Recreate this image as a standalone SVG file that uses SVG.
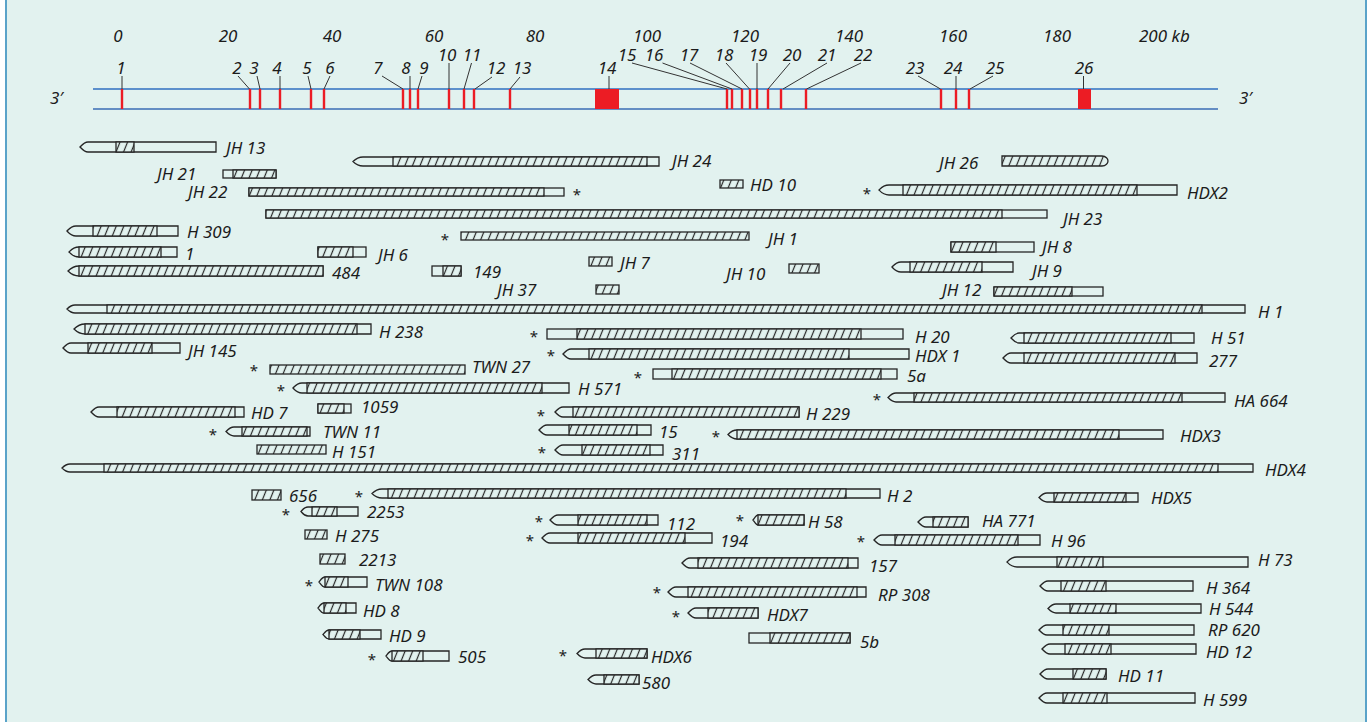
<svg xmlns="http://www.w3.org/2000/svg" width="1372" height="722" viewBox="0 0 1372 722">
<defs>
<pattern id="hatch" width="7" height="10" patternUnits="userSpaceOnUse" patternTransform="rotate(22)">
<rect width="7" height="10" fill="#e2f2ef"/>
<line x1="3.5" y1="0" x2="3.5" y2="10" stroke="#262626" stroke-width="1.2"/>
</pattern>
<style>
.o{fill:#e2f2ef;stroke:#262626;stroke-width:1.3}
.h{fill:url(#hatch);stroke:#262626;stroke-width:1.3}
.t{font-family:"Noto Sans","Open Sans",sans-serif;font-style:italic;font-size:17px;fill:#1c1c1c}
.n{font-family:"Noto Sans","Open Sans",sans-serif;font-style:italic;font-size:17px;fill:#1c1c1c;text-anchor:middle}
.s{font-family:"Noto Sans","Open Sans",sans-serif;font-size:15px;fill:#1c1c1c;text-anchor:middle}
.ld{stroke:#333;stroke-width:1;fill:none}
.ex{fill:#ec1c24}
</style>
</defs>
<rect width="1372" height="722" fill="#ffffff"/>
<rect x="6" y="0" width="1360" height="722" fill="#e2f2ef"/>
<line x1="6" y1="0" x2="6" y2="722" stroke="#5aa3c9" stroke-width="2"/>
<line x1="1366" y1="0" x2="1366" y2="722" stroke="#5aa3c9" stroke-width="2"/>

<!-- kilobase scale -->
<g id="scale">
<text class="n" x="118" y="42">0</text>
<text class="n" x="228" y="42">20</text>
<text class="n" x="332" y="42">40</text>
<text class="n" x="434" y="42">60</text>
<text class="n" x="535" y="42">80</text>
<text class="n" x="647" y="42">100</text>
<text class="n" x="745" y="42">120</text>
<text class="n" x="849" y="42">140</text>
<text class="n" x="953" y="42">160</text>
<text class="n" x="1057" y="42">180</text>
<text class="t" x="1139" y="42">200 kb</text>
</g>

<!-- gene map with exons -->
<g id="gene">
<line x1="93" y1="89" x2="1218" y2="89" stroke="#2f6fc0" stroke-width="1.6"/>
<line x1="93" y1="109" x2="1218" y2="109" stroke="#3a6db5" stroke-width="1.6"/>
<text class="t" x="50" y="104">3′</text>
<text class="t" x="1239" y="104">3′</text>
<rect class="ex" x="120.8" y="89" width="2.4" height="20"/>
<rect class="ex" x="248.8" y="89" width="2.4" height="20"/>
<rect class="ex" x="258.8" y="89" width="2.4" height="20"/>
<rect class="ex" x="278.8" y="89" width="2.4" height="20"/>
<rect class="ex" x="309.8" y="89" width="2.4" height="20"/>
<rect class="ex" x="322.8" y="89" width="2.4" height="20"/>
<rect class="ex" x="401.8" y="89" width="2.4" height="20"/>
<rect class="ex" x="408.8" y="89" width="2.4" height="20"/>
<rect class="ex" x="416.8" y="89" width="2.4" height="20"/>
<rect class="ex" x="447.8" y="89" width="2.4" height="20"/>
<rect class="ex" x="462.8" y="89" width="2.4" height="20"/>
<rect class="ex" x="472.8" y="89" width="2.4" height="20"/>
<rect class="ex" x="508.8" y="89" width="2.4" height="20"/>
<rect class="ex" x="595" y="89" width="24" height="20"/>
<rect class="ex" x="725.8" y="89" width="2.4" height="20"/>
<rect class="ex" x="730.8" y="89" width="2.4" height="20"/>
<rect class="ex" x="740.8" y="89" width="2.4" height="20"/>
<rect class="ex" x="748.8" y="89" width="2.4" height="20"/>
<rect class="ex" x="755.8" y="89" width="2.4" height="20"/>
<rect class="ex" x="766.8" y="89" width="2.4" height="20"/>
<rect class="ex" x="779.8" y="89" width="2.4" height="20"/>
<rect class="ex" x="804.8" y="89" width="2.4" height="20"/>
<rect class="ex" x="939.8" y="89" width="2.4" height="20"/>
<rect class="ex" x="954.8" y="89" width="2.4" height="20"/>
<rect class="ex" x="967.8" y="89" width="2.4" height="20"/>
<rect class="ex" x="1078" y="89" width="13" height="20"/>
<text class="n" x="121" y="74">1</text>
<text class="n" x="237" y="74">2</text>
<text class="n" x="254" y="74">3</text>
<text class="n" x="277" y="74">4</text>
<text class="n" x="307" y="74">5</text>
<text class="n" x="330" y="74">6</text>
<text class="n" x="378" y="74">7</text>
<text class="n" x="406" y="74">8</text>
<text class="n" x="424" y="74">9</text>
<text class="n" x="447" y="61">10</text>
<text class="n" x="472" y="61">11</text>
<text class="n" x="496" y="74">12</text>
<text class="n" x="522" y="74">13</text>
<text class="n" x="607" y="74">14</text>
<text class="n" x="627" y="61">15</text>
<text class="n" x="654" y="61">16</text>
<text class="n" x="689" y="61">17</text>
<text class="n" x="724" y="61">18</text>
<text class="n" x="758" y="61">19</text>
<text class="n" x="792" y="61">20</text>
<text class="n" x="827" y="61">21</text>
<text class="n" x="863" y="61">22</text>
<text class="n" x="915" y="74">23</text>
<text class="n" x="953" y="74">24</text>
<text class="n" x="995" y="74">25</text>
<text class="n" x="1084" y="74">26</text>
</g>

<!-- leaders from exon numbers to the map -->
<g id="connectors" class="ld">
<line x1="122" y1="76" x2="122" y2="89"/>
<line x1="238" y1="76" x2="249.5" y2="89"/>
<line x1="257" y1="76" x2="260" y2="89"/>
<line x1="280" y1="76" x2="280" y2="89"/>
<line x1="308" y1="76" x2="311" y2="89"/>
<line x1="330" y1="76" x2="324" y2="89"/>
<line x1="382" y1="76" x2="403" y2="89"/>
<line x1="410" y1="76" x2="410" y2="89"/>
<line x1="422" y1="76" x2="418" y2="89"/>
<line x1="449" y1="63" x2="449" y2="89"/>
<line x1="471.5" y1="63" x2="464" y2="89"/>
<line x1="492" y1="77" x2="475" y2="89"/>
<line x1="520" y1="77" x2="510" y2="89"/>
<line x1="609" y1="76" x2="609" y2="89"/>
<line x1="632" y1="63" x2="727" y2="89"/>
<line x1="662.5" y1="63" x2="732" y2="89"/>
<line x1="690" y1="63" x2="742" y2="89"/>
<line x1="726" y1="63" x2="749.5" y2="89"/>
<line x1="757" y1="63" x2="757" y2="89"/>
<line x1="790" y1="63" x2="768" y2="89"/>
<line x1="827" y1="63" x2="783" y2="89"/>
<line x1="861" y1="63" x2="806.5" y2="89"/>
<line x1="918" y1="76" x2="940.5" y2="89"/>
<line x1="956" y1="76" x2="956" y2="89"/>
<line x1="993" y1="76" x2="970" y2="89"/>
<line x1="1083.5" y1="76" x2="1083.5" y2="89"/>
</g>

<!-- cloned fragments: outline with a pointed 5' nose, hatched insert on top -->
<g id="JH13"><path class="o" d="M88,142H216V152H88C84,152 81,148 80,147C81,146 84,142 88,142Z"/><rect class="h" x="116" y="142" width="18" height="10"/><text class="t" x="226" y="154">JH 13</text></g>
<g id="JH24"><path class="o" d="M363,157H659V166H363C358,166 354,162.5 353,161.5C354,160.5 358,157 363,157Z"/><rect class="h" x="393" y="157" width="254" height="9"/><text class="t" x="672" y="167">JH 24</text></g>
<g id="JH21"><rect class="o" x="223" y="170" width="53" height="8"/><rect class="h" x="233" y="170" width="43" height="8"/><text class="t" x="157" y="180">JH 21</text></g>
<g id="JH22"><rect class="o" x="249" y="188" width="315" height="8"/><rect class="h" x="249" y="188" width="295" height="8"/><text class="t" x="188" y="198">JH 22</text><text class="s" x="577" y="200">*</text></g>
<g id="JH23"><rect class="o" x="266" y="210" width="781" height="8"/><rect class="h" x="266" y="210" width="736" height="8"/><text class="t" x="1063" y="225">JH 23</text></g>
<g id="H309"><path class="o" d="M76,226H178V236H76C71,236 68,232 67,231C68,230 71,226 76,226Z"/><rect class="h" x="93" y="226" width="64" height="10"/><text class="t" x="187" y="238">H 309</text></g>
<g id="c1"><path class="o" d="M79,247H177V257H79C73,257 70,253 69,252C70,251 73,247 79,247Z"/><rect class="h" x="79" y="247" width="82" height="10"/><text class="t" x="185" y="260">1</text></g>
<g id="c484"><path class="o" d="M79,266H323V276H79C73,276 69,272 68,271C69,270 73,266 79,266Z"/><rect class="h" x="79" y="266" width="244" height="10"/><text class="t" x="332" y="279">484</text></g>
<g id="JH6"><rect class="o" x="318" y="247" width="48" height="10"/><rect class="h" x="318" y="247" width="35" height="10"/><text class="t" x="378" y="261">JH 6</text></g>
<g id="c149"><rect class="o" x="432" y="266" width="29" height="10"/><rect class="h" x="443" y="266" width="18" height="10"/><text class="t" x="473" y="278">149</text></g>
<g id="JH1"><rect class="h" x="461" y="232" width="288" height="8"/><text class="t" x="768" y="245">JH 1</text><text class="s" x="445" y="245">*</text></g>
<g id="HD10"><rect class="h" x="720" y="180" width="23" height="8"/><text class="t" x="750" y="191">HD 10</text></g>
<g id="JH7"><rect class="h" x="589" y="257" width="23" height="9"/><text class="t" x="620" y="269">JH 7</text></g>
<g id="JH10"><rect class="h" x="789" y="264" width="30" height="9"/><text class="t" x="726" y="280">JH 10</text></g>
<g id="JH37"><rect class="h" x="596" y="285" width="23" height="9"/><text class="t" x="497" y="296">JH 37</text></g>
<g id="JH26"><path class="h" d="M1002,156H1102C1106,156 1108,159 1108,161C1108,163 1106,166 1102,166H1002Z"/><text class="t" x="939" y="169">JH 26</text></g>
<g id="HDX2"><path class="o" d="M889,185H1177V195H889C883,195 880,191 879,190C880,189 883,185 889,185Z"/><rect class="h" x="903" y="185" width="234" height="10"/><text class="t" x="1187" y="199">HDX2</text><text class="s" x="867" y="199">*</text></g>
<g id="JH8"><rect class="o" x="951" y="242" width="83" height="10"/><rect class="h" x="951" y="242" width="45" height="10"/><text class="t" x="1042" y="253">JH 8</text></g>
<g id="JH9"><path class="o" d="M901,262H1013V272H901C896,272 893,268 892,267C893,266 896,262 901,262Z"/><rect class="h" x="910" y="262" width="72" height="10"/><text class="t" x="1032" y="277">JH 9</text></g>
<g id="JH12"><rect class="o" x="994" y="287" width="109" height="9"/><rect class="h" x="994" y="287" width="78" height="9"/><text class="t" x="942" y="296">JH 12</text></g>
<g id="H1"><path class="o" d="M75,305H1245V313H75C71,313 68,310 67,309C68,308 71,305 75,305Z"/><rect class="h" x="107" y="305" width="1095" height="8"/><text class="t" x="1258" y="318">H 1</text></g>
<g id="H238"><path class="o" d="M85,324H371V334H85C79,334 75,330 74,329C75,328 79,324 85,324Z"/><rect class="h" x="85" y="324" width="272" height="10"/><text class="t" x="379" y="338">H 238</text></g>
<g id="JH145"><path class="o" d="M71,343H180V353H71C67,353 64,349 63,348C64,347 67,343 71,343Z"/><rect class="h" x="88" y="343" width="64" height="10"/><text class="t" x="188" y="357">JH 145</text></g>
<g id="TWN27"><rect class="h" x="270" y="365" width="195" height="9"/><text class="t" x="472" y="373">TWN 27</text><text class="s" x="254" y="376">*</text></g>
<g id="H571"><path class="o" d="M302,383H569V393H302C297,393 294,389 293,388C294,387 297,383 302,383Z"/><rect class="h" x="307" y="383" width="235" height="10"/><text class="t" x="578" y="395">H 571</text><text class="s" x="281" y="396">*</text></g>
<g id="HD7"><path class="o" d="M99,407H244V417H99C95,417 92,413 91,412C92,411 95,407 99,407Z"/><rect class="h" x="117" y="407" width="118" height="10"/><text class="t" x="251" y="419">HD 7</text></g>
<g id="c1059"><rect class="o" x="318" y="404" width="33" height="9"/><rect class="h" x="318" y="404" width="26" height="9"/><text class="t" x="361" y="413">1059</text></g>
<g id="TWN11"><path class="o" d="M234,427H310V436H234C230,436 227,432.5 226,431.5C227,430.5 230,427 234,427Z"/><rect class="h" x="242" y="427" width="65" height="9"/><text class="t" x="323" y="438">TWN 11</text><text class="s" x="213" y="440">*</text></g>
<g id="H151"><rect class="h" x="257" y="445" width="69" height="9"/><text class="t" x="332" y="458">H 151</text></g>
<g id="HDX4"><path class="o" d="M70,464H1253V472H70C66,472 63,469 62,468C63,467 66,464 70,464Z"/><rect class="h" x="104" y="464" width="1114" height="8"/><text class="t" x="1265" y="476">HDX4</text></g>
<g id="H20"><rect class="o" x="547" y="329" width="356" height="10"/><rect class="h" x="577" y="329" width="284" height="10"/><text class="t" x="915" y="343">H 20</text><text class="s" x="534" y="342">*</text></g>
<g id="HDX1"><path class="o" d="M571,349H909V359H571C567,359 564,355 563,354C564,353 567,349 571,349Z"/><rect class="h" x="589" y="349" width="260" height="10"/><text class="t" x="915" y="362">HDX 1</text><text class="s" x="551" y="361">*</text></g>
<g id="c5a"><rect class="o" x="653" y="369" width="244" height="10"/><rect class="h" x="672" y="369" width="209" height="10"/><text class="t" x="907" y="382">5a</text><text class="s" x="638" y="383">*</text></g>
<g id="H229"><path class="o" d="M563,407H799V417H563C559,417 556,413 555,412C556,411 559,407 563,407Z"/><rect class="h" x="573" y="407" width="226" height="10"/><text class="t" x="806" y="420">H 229</text><text class="s" x="541" y="421">*</text></g>
<g id="c15"><path class="o" d="M547,425H651V435H547C543,435 540,431 539,430C540,429 543,425 547,425Z"/><rect class="h" x="569" y="425" width="68" height="10"/><text class="t" x="659" y="438">15</text></g>
<g id="HDX3"><path class="o" d="M737,430H1163V439H737C732,439 729,435.5 728,434.5C729,433.5 732,430 737,430Z"/><rect class="h" x="737" y="430" width="382" height="9"/><text class="t" x="1180" y="442">HDX3</text><text class="s" x="716" y="442">*</text></g>
<g id="c311"><path class="o" d="M563,445H663V455H563C559,455 556,451 555,450C556,449 559,445 563,445Z"/><rect class="h" x="582" y="445" width="68" height="10"/><text class="t" x="672" y="460">311</text><text class="s" x="542" y="458">*</text></g>
<g id="H51"><path class="o" d="M1019,333H1194V343H1019C1015,343 1012,339 1011,338C1012,337 1015,333 1019,333Z"/><rect class="h" x="1024" y="333" width="147" height="10"/><text class="t" x="1211" y="344">H 51</text></g>
<g id="c277"><path class="o" d="M1011,353H1197V363H1011C1007,363 1004,359 1003,358C1004,357 1007,353 1011,353Z"/><rect class="h" x="1024" y="353" width="151" height="10"/><text class="t" x="1209" y="367">277</text></g>
<g id="HA664"><path class="o" d="M896,393H1225V402H896C892,402 889,398.5 888,397.5C889,396.5 892,393 896,393Z"/><rect class="h" x="914" y="393" width="268" height="9"/><text class="t" x="1234" y="407">HA 664</text><text class="s" x="877" y="405">*</text></g>
<g id="c656"><rect class="h" x="252" y="490" width="29" height="10"/><text class="t" x="289" y="502">656</text></g>
<g id="H2"><path class="o" d="M382,489H880V498H382C377,498 373,494.5 372,493.5C373,492.5 377,489 382,489Z"/><rect class="h" x="388" y="489" width="458" height="9"/><text class="t" x="887" y="502">H 2</text><text class="s" x="359" y="502">*</text></g>
<g id="c2253"><path class="o" d="M308,507H358V516H308C304,516 302,512.5 301,511.5C302,510.5 304,507 308,507Z"/><rect class="h" x="312" y="507" width="25" height="9"/><text class="t" x="367" y="518">2253</text><text class="s" x="286" y="520">*</text></g>
<g id="H275"><rect class="h" x="305" y="530" width="22" height="9"/><text class="t" x="335" y="542">H 275</text></g>
<g id="c2213"><rect class="h" x="320" y="554" width="25" height="10"/><text class="t" x="359" y="566">2213</text></g>
<g id="TWN108"><path class="o" d="M325,577H367V587H325C322,587 320,583 319,582C320,581 322,577 325,577Z"/><rect class="h" x="325" y="577" width="23" height="10"/><text class="t" x="375" y="591">TWN 108</text><text class="s" x="309" y="591">*</text></g>
<g id="HD8"><path class="o" d="M324,603H356V613H324C321,613 319,609 318,608C319,607 321,603 324,603Z"/><rect class="h" x="324" y="603" width="22" height="10"/><text class="t" x="363" y="617">HD 8</text></g>
<g id="HD9"><path class="o" d="M329,630H381V639H329C326,639 324,635.5 323,634.5C324,633.5 326,630 329,630Z"/><rect class="h" x="329" y="630" width="31" height="9"/><text class="t" x="389" y="642">HD 9</text></g>
<g id="c505"><path class="o" d="M392,651H449V661H392C389,661 387,657 386,656C387,655 389,651 392,651Z"/><rect class="h" x="392" y="651" width="31" height="10"/><text class="t" x="458" y="663">505</text><text class="s" x="372" y="665">*</text></g>
<g id="c112"><path class="o" d="M558,515H658V525H558C554,525 551,521 550,520C551,519 554,515 558,515Z"/><rect class="h" x="578" y="515" width="69" height="10"/><text class="t" x="667" y="530">112</text><text class="s" x="539" y="527">*</text></g>
<g id="c194"><path class="o" d="M550,533H712V543H550C546,543 543,539 542,538C543,537 546,533 550,533Z"/><rect class="h" x="578" y="533" width="107" height="10"/><text class="t" x="720" y="547">194</text><text class="s" x="530" y="546">*</text></g>
<g id="H58"><path class="o" d="M758,515H804V525H758C756,525 754,521 753,520C754,519 756,515 758,515Z"/><rect class="h" x="758" y="515" width="46" height="10"/><text class="t" x="808" y="528">H 58</text><text class="s" x="740" y="526">*</text></g>
<g id="c157"><path class="o" d="M690,558H858V568H690C686,568 683,564 682,563C683,562 686,558 690,558Z"/><rect class="h" x="698" y="558" width="150" height="10"/><text class="t" x="869" y="572">157</text></g>
<g id="RP308"><path class="o" d="M676,587H866V597H676C672,597 669,593 668,592C669,591 672,587 676,587Z"/><rect class="h" x="688" y="587" width="169" height="10"/><text class="t" x="878" y="601">RP 308</text><text class="s" x="657" y="598">*</text></g>
<g id="HDX7"><path class="o" d="M696,608H758V618H696C692,618 689,614 688,613C689,612 692,608 696,608Z"/><rect class="h" x="708" y="608" width="50" height="10"/><text class="t" x="767" y="621">HDX7</text><text class="s" x="676" y="622">*</text></g>
<g id="c5b"><rect class="o" x="749" y="633" width="101" height="10"/><rect class="h" x="770" y="633" width="80" height="10"/><text class="t" x="860" y="648">5b</text></g>
<g id="HDX6"><path class="o" d="M585,649H647V658H585C581,658 578,654.5 577,653.5C578,652.5 581,649 585,649Z"/><rect class="h" x="596" y="649" width="51" height="9"/><text class="t" x="651" y="663">HDX6</text><text class="s" x="563" y="661">*</text></g>
<g id="c580"><path class="o" d="M596,675H639V684H596C592,684 589,680.5 588,679.5C589,678.5 592,675 596,675Z"/><rect class="h" x="604" y="675" width="35" height="9"/><text class="t" x="642" y="689">580</text></g>
<g id="HDX5"><path class="o" d="M1047,493H1138V502H1047C1043,502 1040,498.5 1039,497.5C1040,496.5 1043,493 1047,493Z"/><rect class="h" x="1054" y="493" width="72" height="9"/><text class="t" x="1151" y="504">HDX5</text></g>
<g id="HA771"><path class="o" d="M926,517H968V527H926C922,527 919,523 918,522C919,521 922,517 926,517Z"/><rect class="h" x="933" y="517" width="35" height="10"/><text class="t" x="982" y="527">HA 771</text></g>
<g id="H96"><path class="o" d="M882,535H1040V545H882C878,545 875,541 874,540C875,539 878,535 882,535Z"/><rect class="h" x="895" y="535" width="123" height="10"/><text class="t" x="1051" y="547">H 96</text><text class="s" x="861" y="547">*</text></g>
<g id="H73"><path class="o" d="M1017,557H1248V567H1017C1011,567 1008,563 1007,562C1008,561 1011,557 1017,557Z"/><rect class="h" x="1057" y="557" width="46" height="10"/><text class="t" x="1258" y="566">H 73</text></g>
<g id="H364"><path class="o" d="M1048,581H1193V591H1048C1044,591 1041,587 1040,586C1041,585 1044,581 1048,581Z"/><rect class="h" x="1061" y="581" width="45" height="10"/><text class="t" x="1206" y="594">H 364</text></g>
<g id="H544"><path class="o" d="M1056,604H1201V613H1056C1052,613 1049,609.5 1048,608.5C1049,607.5 1052,604 1056,604Z"/><rect class="h" x="1070" y="604" width="46" height="9"/><text class="t" x="1209" y="615">H 544</text></g>
<g id="RP620"><path class="o" d="M1047,625H1194V635H1047C1043,635 1040,631 1039,630C1040,629 1043,625 1047,625Z"/><rect class="h" x="1063" y="625" width="46" height="10"/><text class="t" x="1208" y="636">RP 620</text></g>
<g id="HD12"><path class="o" d="M1050,644H1196V654H1050C1046,654 1043,650 1042,649C1043,648 1046,644 1050,644Z"/><rect class="h" x="1065" y="644" width="46" height="10"/><text class="t" x="1206" y="658">HD 12</text></g>
<g id="HD11"><path class="o" d="M1048,669H1106V679H1048C1044,679 1041,675 1040,674C1041,673 1044,669 1048,669Z"/><rect class="h" x="1073" y="669" width="33" height="10"/><text class="t" x="1118" y="682">HD 11</text></g>
<g id="H599"><path class="o" d="M1047,693H1195V703H1047C1043,703 1040,699 1039,698C1040,697 1043,693 1047,693Z"/><rect class="h" x="1063" y="693" width="44" height="10"/><text class="t" x="1203" y="706">H 599</text></g>
</svg>
